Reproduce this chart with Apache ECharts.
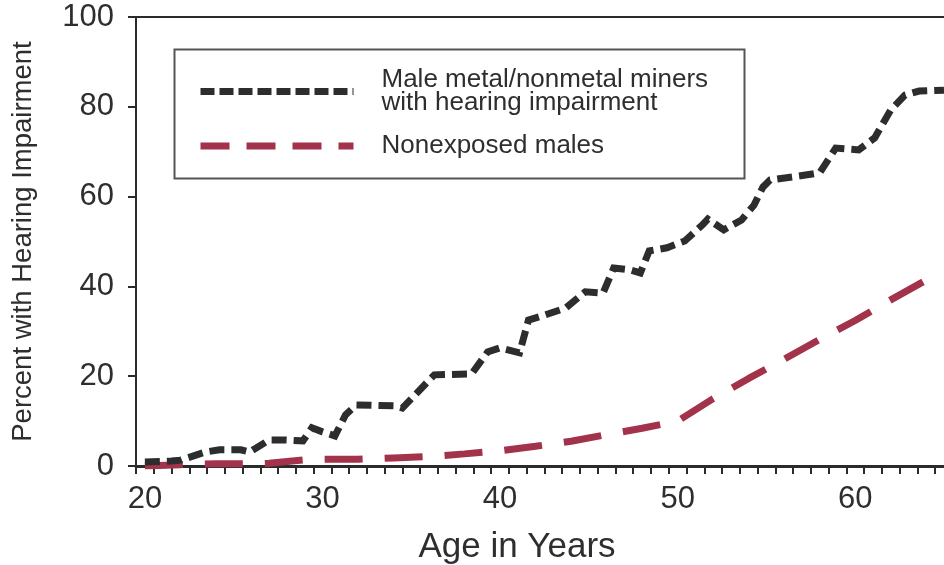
<!DOCTYPE html>
<html>
<head>
<meta charset="utf-8">
<script src="https://cdn.jsdelivr.net/npm/echarts@6/dist/echarts.min.js"></script>
<style>
html,body{margin:0;padding:0;background:#fff;}
#chart{width:944px;height:565px;}
</style>
</head>
<body>
<div id="chart"></div>
<script>
// ---- data ----
var minerAges = [20, 21.5, 22, 23.4, 24.2, 25.4, 25.9, 27.0, 27.9, 28.9,
  29.4, 30.0, 30.7, 31.3, 31.9, 34.1, 34.5, 36.3, 38.4, 39.3,
  40.0, 41.1, 41.6, 42.5, 43.7, 44.8, 45.8, 46.4, 47.3, 47.9,
  48.4, 49.4, 50.4, 51.4, 51.7, 52.6, 53.6, 54.3, 54.8, 55.2,
  57.2, 58.0, 58.9, 60.2, 61.1, 62.0, 62.8, 63.6, 65.0];
var minerPct = [0.9, 1.1, 1.3, 3.1, 3.6, 3.6, 3.1, 5.8, 5.8, 5.6,
  8.5, 7.6, 6.7, 11.4, 13.6, 13.4, 12.9, 20.3, 20.5, 25.4,
  26.3, 25.2, 32.5, 33.6, 35.2, 38.8, 38.5, 44.1, 43.7, 43.0,
  47.9, 48.6, 50.1, 53.7, 55.0, 52.6, 54.8, 58.1, 62.1, 63.7,
  64.8, 65.3, 70.8, 70.4, 73.1, 79.3, 82.6, 83.5, 83.7];

var nonexpAges = [20, 22, 24, 26, 27, 29, 30, 32, 34, 36, 38, 40, 42, 44, 46, 48, 50, 51, 52, 54, 56, 58, 60, 62, 64, 64.6];
var nonexpPct  = [0, 0.3, 0.5, 0.5, 0.6, 1.4, 1.5, 1.5, 1.8, 2.1, 2.7, 3.4, 4.4, 5.5, 7.0, 8.4, 10.0, 12.5, 15.0, 19.5, 23.8, 28.2, 32.4, 37.0, 41.4, 42.4];

var xTickLabels = [20, 30, 40, 50, 60];
var yTickLabels = [0, 20, 40, 60, 80, 100];
var seriesNames = ['Male metal/nonmetal miners\nwith hearing impairment', 'Nonexposed males'];
var xAxisTitle = 'Age in Years';
var yAxisTitle = 'Percent with Hearing Impairment';

// ---- build ----
function pairs(xs, ys){ return xs.map(function(x,i){ return [x, ys[i]]; }); }
var minorTicks = [];
for (var t = 19.5; t <= 64.6; t += 1) minorTicks.push(t);

var txt = '#2e2e2e';
var FONT = '"Liberation Sans", Arial, Helvetica, sans-serif';
var black = '#2b2d2f';
var red = '#a3334a';

var chart = echarts.init(document.getElementById('chart'), null, {renderer:'canvas'});
chart.setOption({
  backgroundColor: '#fff',
  animation: false,
  textStyle: {fontFamily: FONT, color: txt},
  grid: {left: 136, right: 0, top: 17, bottom: 99, containLabel: false, outerBoundsMode: 'none'},
  graphic: [{
    type: 'rect',
    left: 172, top: 47,
    shape: {width: 570, height: 129},
    style: {fill: 'none', stroke: '#555', lineWidth: 2},
    z: 10
  }],
  legend: {
    orient: 'vertical',
    left: 197, top: 67,
    padding: 0,
    itemWidth: 153, itemHeight: 8,
    itemGap: 17,
    textStyle: {fontFamily: FONT, fontSize: 26, color: txt, padding: [0,0,0,23], lineHeight: 23},
    data: [
      {name: seriesNames[0], lineStyle: {type: [14, 5], width: 7}, itemStyle: {opacity: 0}},
      {name: seriesNames[1], lineStyle: {type: [29, 17], width: 7}, itemStyle: {opacity: 0}}
    ]
  },
  xAxis: [{
    type: 'value',
    min: 19.5, max: 65,
    name: xAxisTitle,
    nameLocation: 'middle',
    nameGap: 64,
    nameTextStyle: {fontFamily: FONT, fontSize: 35, color: txt, padding: [0, 46, 0, 0]},
    axisLine: {show: true, onZero: false, lineStyle: {color: '#2b2b2b', width: 3}},
    axisTick: {show: true, length: 8, customValues: minorTicks, lineStyle: {color: '#2b2b2b', width: 2}},
    axisLabel: {customValues: xTickLabels, fontSize: 31, color: txt, margin: 18, fontFamily: FONT},
    splitLine: {show: false}
  }, {
    type: 'value',
    position: 'top',
    min: 19.5, max: 65,
    axisLine: {show: true, onZero: false, lineStyle: {color: '#2b2b2b', width: 2}},
    axisTick: {show: false},
    axisLabel: {show: false},
    splitLine: {show: false}
  }],
  yAxis: {
    type: 'value',
    min: 0, max: 100, interval: 20,
    name: yAxisTitle,
    nameLocation: 'middle',
    nameGap: 99,
    nameTextStyle: {fontFamily: FONT, fontSize: 27.5, color: txt},
    axisLine: {show: true, lineStyle: {color: '#2b2b2b', width: 2}},
    axisTick: {show: true, length: 8, lineStyle: {color: '#2b2b2b', width: 2}},
    axisLabel: {fontSize: 31, color: txt, margin: 22, fontFamily: FONT,
      formatter: function(v){ return yTickLabels.indexOf(v) >= 0 ? String(v) : ''; }},
    splitLine: {show: false}
  },
  series: [{
    name: seriesNames[0],
    type: 'line',
    data: pairs(minerAges, minerPct),
    showSymbol: false,
    symbol: 'none',
    lineStyle: {color: black, width: 7, type: [15, 7], cap: 'butt', join: 'miter'},
    itemStyle: {color: black},
    z: 3
  }, {
    name: seriesNames[1],
    type: 'line',
    data: pairs(nonexpAges, nonexpPct),
    showSymbol: false,
    symbol: 'none',
    lineStyle: {color: red, width: 7, type: [38, 22], cap: 'butt'},
    itemStyle: {color: red},
    z: 2
  }]
});
</script>
</body>
</html>
